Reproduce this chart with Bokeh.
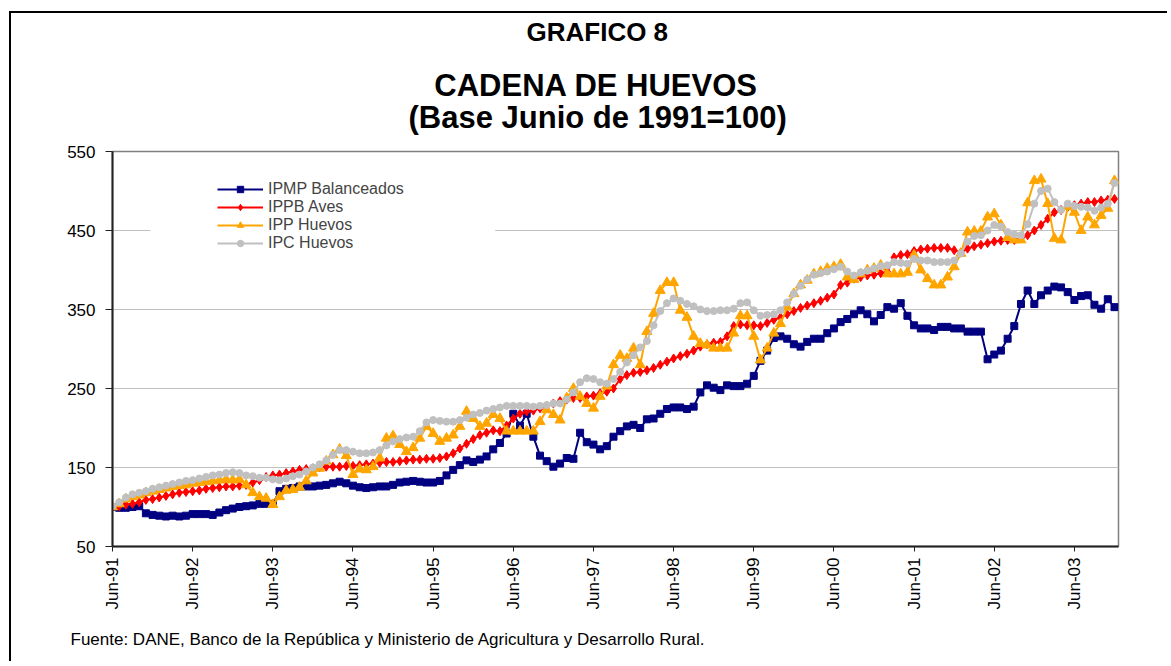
import math
from bokeh.plotting import figure
from bokeh.models import Range1d, FixedTicker, Legend, LegendItem, Title, BoxAnnotation
from bokeh.embed import file_html
from bokeh.resources import INLINE

# ---------------- data (monthly, Jun-91 .. Dec-03) ----------------
tick_labels = ["Jun-91", "Jun-92", "Jun-93", "Jun-94", "Jun-95", "Jun-96", "Jun-97",
               "Jun-98", "Jun-99", "Jun-00", "Jun-01", "Jun-02", "Jun-03"]

series_names = ["IPMP Balanceados", "IPPB Aves", "IPP Huevos", "IPC Huevos"]

ipmp_balanceados = [
    100, 99, 99, 100, 101, 92, 90, 89, 88, 89, 88, 89, 91, 91, 91, 90, 93, 96, 98, 100, 101, 102, 104, 104, 104,
    120, 123, 124, 126, 126, 126, 127, 128, 130, 132, 130, 127, 125, 124, 125, 126, 126, 128, 131, 132, 133, 132, 131, 131, 133, 140, 147, 153, 159, 157,
    160, 164, 173, 181, 193, 218, 203, 218, 189, 165, 158, 151, 155, 162, 161, 194, 182, 179, 173, 177, 189, 196, 202, 204, 200, 211, 212,
    218, 224, 226, 226, 224, 227, 245, 254, 251, 248, 254, 253, 253, 256, 266, 285, 298, 314, 316, 313, 306, 303, 309, 313, 313, 320, 326, 334,
    338, 344, 349, 344, 335, 343, 353, 351, 358, 342, 330, 326, 326, 324, 328, 328, 326, 326, 322, 322, 322,
    287, 293, 298, 313, 329, 357, 374, 357, 368, 374, 379, 378, 372, 362, 367, 368, 356, 351, 363, 353]

ippb_aves = [
    100, 101, 103, 104, 106, 109, 110, 112, 114, 116, 118, 119, 120, 121, 123, 124, 125, 126, 126, 127, 128, 131, 134, 138, 140,
    141, 143, 145, 147, 148, 149, 150, 151, 151, 151, 152, 152, 153, 154, 155, 156, 157, 157, 158, 159, 160, 160, 161, 161, 162, 164, 168,
    174, 180, 186, 191, 194, 197, 196, 203, 212, 218, 221, 222, 225, 228, 231, 234, 236, 238, 238, 240, 241, 244, 246, 250, 262, 267, 270, 271, 273, 276, 280,
    284, 288, 291, 294, 298, 303, 306, 308, 309, 316, 329, 331, 330, 330, 329, 333, 337, 340, 344, 348, 352, 355, 358, 361, 365, 369,
    381, 384, 389, 391, 393, 394, 396, 398, 416, 419, 420, 424, 426, 427, 428, 428, 428, 425, 422, 427, 430, 432, 434, 436, 437, 438, 438, 440,
    444, 450, 457, 465, 473, 476, 480, 482, 484, 486, 486, 488, 489, 490]

ipp_huevos = [
    100, 104, 110, 113, 115, 118, 120, 122, 124, 126, 127, 128, 130, 131, 132, 133, 134, 135, 134, 135,
    128, 118, 113, 111, 103, 113, 121, 122, 125, 133, 143, 149, 158, 166, 173, 165, 141, 148, 147, 151, 162, 187, 190, 179, 170, 175, 187, 202, 193, 183, 187, 191, 202, 221, 212,
    202, 206, 217, 212, 196, 196, 196, 196, 196, 208, 223, 217, 210, 238, 250, 240, 231, 225, 240, 253, 280, 292, 288, 301, 280, 322, 345,
    374, 384, 384, 349, 340, 316, 307, 305, 301, 301, 301, 320, 342, 342, 316, 286, 301, 320, 332, 353, 370, 381, 387, 395, 398, 402, 404,
    407, 391, 388, 395, 400, 402, 406, 395, 395, 395, 397, 419, 400, 389, 381, 381, 391, 404, 421, 448, 449, 449, 467, 471, 457, 441, 438, 438,
    485, 513, 515, 484, 440, 438, 480, 473, 450, 467, 457, 469, 478, 513]

ipc_huevos = [
    101, 106, 112, 116, 118, 120, 123, 125, 127, 129, 131, 133, 134, 136, 138, 140, 141, 143, 144, 143, 140, 139, 137, 137, 135, 134, 136, 139,
    141, 145, 150, 154, 159, 166, 172, 172, 170, 168, 168, 169, 172, 178, 183, 186, 188, 189, 196, 207, 210, 209, 208, 208, 210, 213, 217,
    219, 222, 224, 226, 228, 228, 228, 228, 227, 228, 229, 231, 231, 236, 245, 258, 263, 262, 258, 256, 262, 271, 283, 292, 302, 310,
    330, 348, 358, 364, 361, 357, 354, 350, 348, 348, 349, 349, 351, 358, 359, 349, 342, 343, 344, 349, 359, 370, 380, 388, 394, 396, 398, 401,
    404, 398, 393, 397, 399, 402, 405, 406, 410, 409, 408, 414, 412, 412, 410, 410, 410, 412, 421, 436, 443, 444, 450, 457, 455, 448, 445, 444,
    458, 484, 500, 503, 486, 476, 484, 481, 480, 479, 475, 479, 484, 510]

months = list(range(len(ipmp_balanceados)))
y_ticks = [50, 150, 250, 350, 450, 550]

title_1 = "GRAFICO 8"
title_2 = "CADENA DE HUEVOS"
title_3 = "(Base Junio de 1991=100)"
source = "Fuente: DANE, Banco de la República y Ministerio de Agricultura y Desarrollo Rural."

FONT = "Liberation Sans"

p = figure(width=1158, height=650, output_backend="svg", toolbar_location=None,
           x_range=Range1d(0, 150.6), y_range=Range1d(50, 550),
           min_border_left=101, min_border_right=51, min_border_top=138, min_border_bottom=116,
           title=title_1)
p.styles = {"border-left": "2px solid #000000", "border-top": "2px solid #000000",
            "margin-left": "9px", "margin-top": "11px"}

# outermost title (figure title)
p.title.align = "left"
p.title.offset = 414
p.title.standoff = 0
p.title.vertical_align = "top"
p.title.text_font = FONT
p.title.text_font_size = "26px"
p.title.text_font_style = "bold"
p.title.text_color = "black"

# two-line main title, closest to the plot area (second line is the wider one;
# the first is indented with no-break spaces so that both look centred)
t2 = Title(text="\u00a0\u00a0\u00a0" + title_2 + "\n" + title_3, align="left", offset=296,
           standoff=34, text_line_height=0.9,
           text_font=FONT, text_font_size="31px", text_font_style="bold", text_color="black")
p.add_layout(t2, "above")

foot = Title(text=source, align="left", offset=-42, standoff=30,
             text_font=FONT, text_font_size="17px", text_font_style="normal", text_color="black")
p.add_layout(foot, "below")

p.outline_line_color = "#808080"
p.outline_line_width = 1.5
p.background_fill_color = "white"
p.border_fill_color = "white"

p.xgrid.visible = False
p.ygrid.ticker = FixedTicker(ticks=y_ticks)
p.ygrid.grid_line_color = "#C0C0C0"
p.ygrid.grid_line_width = 1

p.yaxis.ticker = FixedTicker(ticks=y_ticks)
p.xaxis.ticker = FixedTicker(ticks=[i * 12 for i in range(len(tick_labels))])
p.xaxis.major_label_overrides = {i * 12: lab for i, lab in enumerate(tick_labels)}
p.xaxis.major_label_orientation = math.pi / 2

for ax in (p.xaxis, p.yaxis):
    ax.axis_line_color = "#222222"
    ax.axis_line_width = 2
    ax.major_tick_line_color = "#222222"
    ax.major_tick_in = 0
    ax.minor_tick_line_color = None
    ax.major_label_text_font = FONT
    ax.major_label_text_font_size = "17px"
    ax.major_label_text_color = "black"
p.yaxis.major_tick_out = 7
p.xaxis.major_tick_out = 5
p.yaxis.major_label_standoff = 10
p.xaxis.major_label_standoff = 6

# white legend box hiding the gridline behind the legend
p.add_layout(BoxAnnotation(left=5.7, right=57.3, bottom=417, top=523, fill_color="white",
                           fill_alpha=1, line_alpha=0))

styles = [
    (ipmp_balanceados, "#000080", "square", 7),
    (ippb_aves, "#FF0000", "diamond", 9),
    (ipp_huevos, "#FFA500", "triangle", 10),
    (ipc_huevos, "#C0C0C0", "circle", 7),
]
items = []
for name, (vals, color, marker, size) in zip(series_names, styles):
    l = p.line(months, vals, line_color=color, line_width=2)
    s = p.scatter(months, vals, marker=marker, size=size, fill_color=color, line_color=color)
    items.append(LegendItem(label=name, renderers=[l, s]))

legend = Legend(items=items, location=(101, 290), glyph_width=46, glyph_height=16,
                label_height=16, spacing=0, padding=4, label_standoff=5,
                label_text_font=FONT, label_text_font_size="16px",
                background_fill_color="white", background_fill_alpha=1,
                border_line_alpha=0)
p.add_layout(legend)

open("out.html", "w").write(file_html(p, INLINE))
